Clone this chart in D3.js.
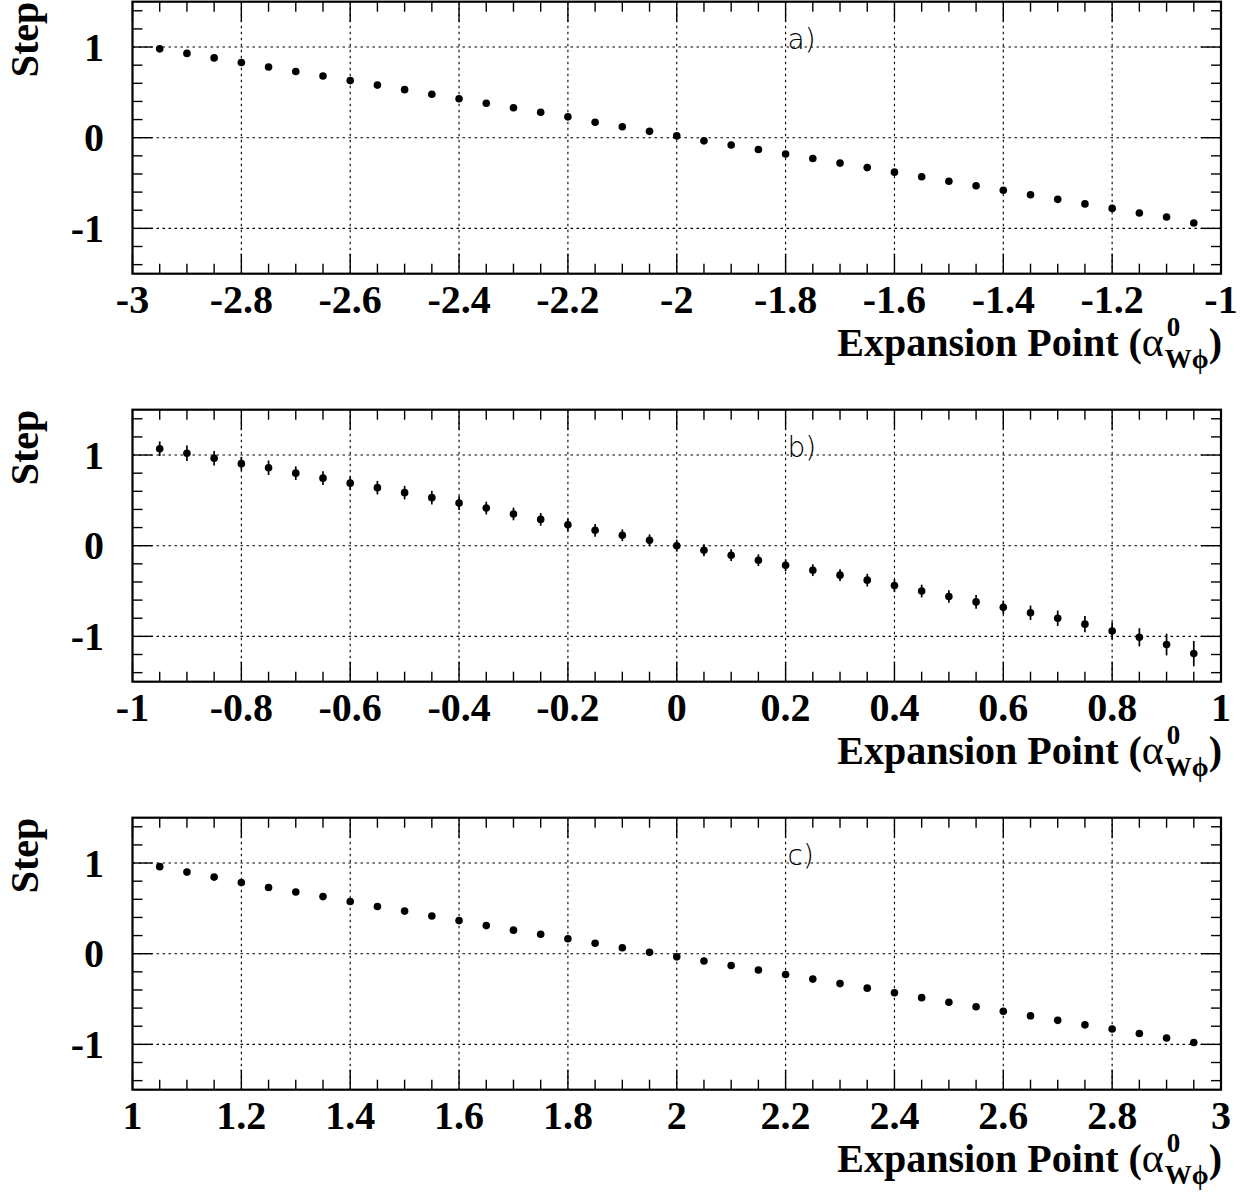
<!DOCTYPE html>
<html>
<head>
<meta charset="utf-8">
<script src="https://cdn.jsdelivr.net/npm/d3@7"></script>
<style>
  html, body { margin: 0; padding: 0; background: #fff; }
  svg { display: block; }
</style>
</head>
<body>
<svg id="chart" width="1241" height="1192"></svg>
<script>
// ---------------- data ----------------
const xA = [-2.95, -2.9, -2.85, -2.8, -2.75, -2.7, -2.65, -2.6, -2.55, -2.5, -2.45, -2.4, -2.35, -2.3, -2.25, -2.2, -2.15, -2.1, -2.05, -2.0,
            -1.95, -1.9, -1.85, -1.8, -1.75, -1.7, -1.65, -1.6, -1.55, -1.5, -1.45, -1.4, -1.35, -1.3, -1.25, -1.2, -1.15, -1.1, -1.05];
const stepA = [0.98, 0.93, 0.88, 0.83, 0.78, 0.73, 0.68, 0.63, 0.58, 0.53, 0.48, 0.43, 0.38, 0.33, 0.28, 0.23, 0.17, 0.12, 0.07, 0.02,
               -0.035, -0.08, -0.13, -0.18, -0.23, -0.28, -0.33, -0.38, -0.43, -0.48, -0.53, -0.58, -0.63, -0.68, -0.73, -0.78, -0.83, -0.875, -0.94];

const xB = [-0.95, -0.9, -0.85, -0.8, -0.75, -0.7, -0.65, -0.6, -0.55, -0.5, -0.45, -0.4, -0.35, -0.3, -0.25, -0.2, -0.15, -0.1, -0.05, 0.0,
            0.05, 0.1, 0.15, 0.2, 0.25, 0.3, 0.35, 0.4, 0.45, 0.5, 0.55, 0.6, 0.65, 0.7, 0.75, 0.8, 0.85, 0.9, 0.95];
const stepB = [1.07, 1.02, 0.965, 0.905, 0.86, 0.80, 0.745, 0.69, 0.64, 0.585, 0.53, 0.47, 0.415, 0.35, 0.29, 0.23, 0.17, 0.115, 0.06, 0.0,
               -0.05, -0.105, -0.16, -0.215, -0.27, -0.325, -0.38, -0.44, -0.50, -0.56, -0.62, -0.68, -0.74, -0.80, -0.865, -0.94, -1.01, -1.09, -1.19];
const errB = [0.08, 0.085, 0.08, 0.075, 0.08, 0.075, 0.075, 0.075, 0.075, 0.075, 0.075, 0.075, 0.07, 0.07, 0.07, 0.07, 0.07, 0.065, 0.065, 0.065,
              0.065, 0.065, 0.065, 0.065, 0.065, 0.065, 0.07, 0.07, 0.07, 0.07, 0.075, 0.075, 0.08, 0.085, 0.09, 0.095, 0.10, 0.12, 0.14];

const xC = [1.05, 1.1, 1.15, 1.2, 1.25, 1.3, 1.35, 1.4, 1.45, 1.5, 1.55, 1.6, 1.65, 1.7, 1.75, 1.8, 1.85, 1.9, 1.95, 2.0,
            2.05, 2.1, 2.15, 2.2, 2.25, 2.3, 2.35, 2.4, 2.45, 2.5, 2.55, 2.6, 2.65, 2.7, 2.75, 2.8, 2.85, 2.9, 2.95];
const stepC = [0.96, 0.90, 0.845, 0.785, 0.73, 0.68, 0.63, 0.575, 0.52, 0.47, 0.415, 0.365, 0.31, 0.26, 0.215, 0.165, 0.115, 0.065, 0.015, -0.035,
               -0.08, -0.13, -0.18, -0.23, -0.28, -0.33, -0.38, -0.43, -0.485, -0.535, -0.585, -0.635, -0.685, -0.735, -0.785, -0.83, -0.88, -0.93, -0.98];

const xTicksA = [-3, -2.8, -2.6, -2.4, -2.2, -2, -1.8, -1.6, -1.4, -1.2, -1];
const xTicksB = [-1, -0.8, -0.6, -0.4, -0.2, 0, 0.2, 0.4, 0.6, 0.8, 1];
const xTicksC = [1, 1.2, 1.4, 1.6, 1.8, 2, 2.2, 2.4, 2.6, 2.8, 3];
const yTicks = [-1, 0, 1];
const panelLabels = ["a)", "b)", "c)"];
const yTitle = "Step";
const xTitleMain = "Expansion Point (";
const xTitleAlpha = "α";
const xTitleSup = "0";
const xTitleSub = "Wϕ";
const xTitleClose = ")";

// ---------------- layout ----------------
const svg = d3.select("#chart");
const L = 132.5, R = 1221;
const PH = 272;
const tops = [1.7, 409.7, 817.7];
const serif = "'Liberation Serif', 'Times New Roman', serif";
const FS = 40;

const panels = [
  { xs: xA, ys: stepA, err: null, dom: [-3, -1], ticks: xTicksA, label: panelLabels[0], top: tops[0] },
  { xs: xB, ys: stepB, err: errB, dom: [-1, 1], ticks: xTicksB, label: panelLabels[1], top: tops[1] },
  { xs: xC, ys: stepC, err: null, dom: [1, 3], ticks: xTicksC, label: panelLabels[2], top: tops[2] }
];

panels.forEach(p => {
  const g = svg.append("g");
  const x = d3.scaleLinear().domain(p.dom).range([L, R]);
  const y = d3.scaleLinear().domain([-1.5, 1.5]).range([p.top + PH, p.top]);
  const bottom = p.top + PH;

  // grid
  const gridX = p.ticks.filter(t => t !== p.dom[0] && t !== p.dom[1]);
  g.selectAll(".gx").data(gridX).enter().append("line")
    .attr("x1", d => x(d)).attr("x2", d => x(d))
    .attr("y1", p.top).attr("y2", bottom)
    .attr("stroke", "#000").attr("stroke-width", 1.1).attr("stroke-dasharray", "2.5,3.5");
  g.selectAll(".gy").data(yTicks).enter().append("line")
    .attr("x1", L).attr("x2", R)
    .attr("y1", d => y(d)).attr("y2", d => y(d))
    .attr("stroke", "#000").attr("stroke-width", 1.1).attr("stroke-dasharray", "2.5,3.5");

  // ticks: x minor (0.05) and major
  const xMinor = x.ticks(40);
  const xMajor = p.ticks;
  const tickStroke = 1.4;
  xMinor.forEach(t => {
    const isMajor = xMajor.some(m => Math.abs(m - t) < 1e-9);
    const len = isMajor ? 20 : 10;
    g.append("line").attr("x1", x(t)).attr("x2", x(t)).attr("y1", bottom).attr("y2", bottom - len)
      .attr("stroke", "#000").attr("stroke-width", tickStroke);
    g.append("line").attr("x1", x(t)).attr("x2", x(t)).attr("y1", p.top).attr("y2", p.top + len)
      .attr("stroke", "#000").attr("stroke-width", tickStroke);
  });
  const yMinor = y.ticks(15);
  yMinor.forEach(t => {
    const isMajor = yTicks.some(m => Math.abs(m - t) < 1e-9);
    const len = isMajor ? 20 : 10;
    g.append("line").attr("x1", L).attr("x2", L + len).attr("y1", y(t)).attr("y2", y(t))
      .attr("stroke", "#000").attr("stroke-width", tickStroke);
    g.append("line").attr("x1", R).attr("x2", R - len).attr("y1", y(t)).attr("y2", y(t))
      .attr("stroke", "#000").attr("stroke-width", tickStroke);
  });

  // frame
  g.append("rect").attr("x", L).attr("y", p.top).attr("width", R - L).attr("height", PH)
    .attr("fill", "none").attr("stroke", "#000").attr("stroke-width", 2.2);

  // x tick labels
  g.selectAll(".xl").data(xMajor).enter().append("text")
    .attr("x", d => x(d)).attr("y", bottom + 39)
    .attr("text-anchor", "middle")
    .attr("font-family", serif).attr("font-weight", "bold").attr("font-size", FS)
    .text(d => String(d));

  // y tick labels
  g.selectAll(".yl").data(yTicks).enter().append("text")
    .attr("x", 104).attr("y", d => y(d) + 13.5)
    .attr("text-anchor", "end")
    .attr("font-family", serif).attr("font-weight", "bold").attr("font-size", FS)
    .text(d => String(d));

  // y title
  g.append("text")
    .attr("transform", `translate(38,${p.top}) rotate(-90)`)
    .attr("text-anchor", "end")
    .attr("font-family", serif).attr("font-weight", "bold").attr("font-size", FS)
    .text(yTitle);

  // x title
  const tg = g.append("g");
  const t1 = tg.append("text").attr("x", 0).attr("y", 0)
    .attr("font-family", serif).attr("font-weight", "bold").attr("font-size", FS)
    .text(xTitleMain);
  const w1 = t1.node().getComputedTextLength();
  const ta = tg.append("text").attr("x", w1).attr("y", 0)
    .attr("font-family", serif).attr("font-size", 42)
    .text(xTitleAlpha);
  const wa = w1 + ta.node().getComputedTextLength();
  const sup = tg.append("text").attr("x", wa + 3).attr("y", -20)
    .attr("font-family", serif).attr("font-weight", "bold").attr("font-size", 27)
    .text(xTitleSup);
  const sub = tg.append("text").attr("x", wa + 1).attr("y", 12)
    .attr("font-family", serif).attr("font-weight", "bold").attr("font-size", 27)
    .text(xTitleSub);
  const ws = Math.max(sup.node().getComputedTextLength() + 3, sub.node().getComputedTextLength() + 1);
  const cl = tg.append("text").attr("x", wa + ws).attr("y", 0)
    .attr("font-family", serif).attr("font-weight", "bold").attr("font-size", FS)
    .text(xTitleClose);
  const total = wa + ws + cl.node().getComputedTextLength();
  tg.attr("transform", `translate(${R + 1 - total},${bottom + 82})`);

  // panel label
  g.append("text")
    .attr("x", x(p.dom[0] + 1.2) + 2).attr("y", y(1) + 2)
    .attr("font-family", "'DejaVu Sans', sans-serif").attr("font-weight", 200)
    .attr("font-size", 28).attr("fill", "#000")
    .text(p.label);

  // error bars
  if (p.err) {
    g.selectAll(".eb").data(p.xs.map((v, i) => [v, p.ys[i], p.err[i]])).enter().append("line")
      .attr("x1", d => x(d[0])).attr("x2", d => x(d[0]))
      .attr("y1", d => y(d[1] - d[2])).attr("y2", d => y(d[1] + d[2]))
      .attr("stroke", "#000").attr("stroke-width", 1.7);
  }
  // points
  g.selectAll(".pt").data(p.xs.map((v, i) => [v, p.ys[i]])).enter().append("circle")
    .attr("cx", d => x(d[0])).attr("cy", d => y(d[1])).attr("r", 3.8)
    .attr("fill", "#000");
});
</script>
</body>
</html>
